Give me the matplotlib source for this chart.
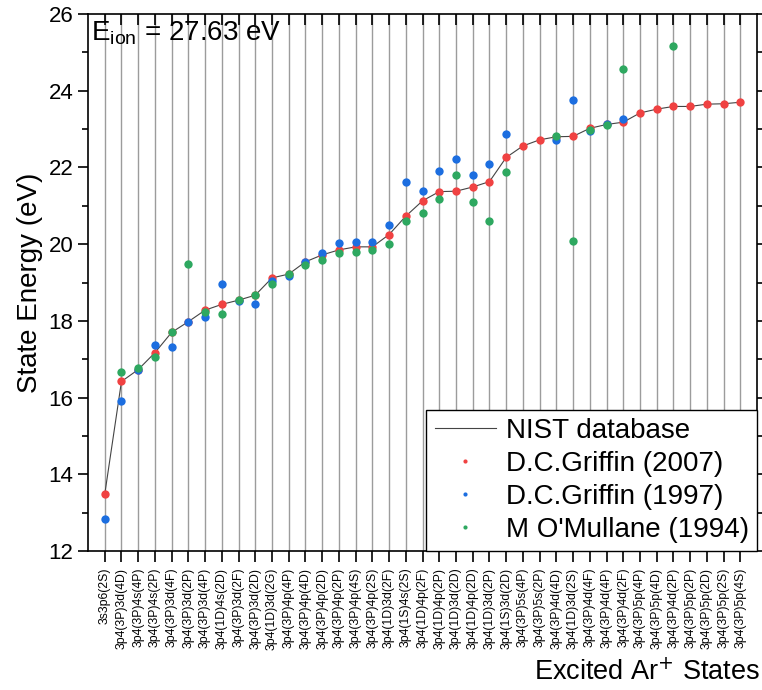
import numpy as np
import matplotlib.pyplot as plt
from matplotlib.ticker import MultipleLocator

plt.rcParams['font.family'] = ['Liberation Sans', 'DejaVu Sans']

states = ["3s3p6(2S)", "3p4(3P)3d(4D)", "3p4(3P)4s(4P)", "3p4(3P)4s(2P)", "3p4(3P)3d(4F)",
          "3p4(3P)3d(2P)", "3p4(3P)3d(4P)", "3p4(1D)4s(2D)", "3p4(3P)3d(2F)", "3p4(3P)3d(2D)",
          "3p4(1D)3d(2G)", "3p4(3P)4p(4P)", "3p4(3P)4p(4D)", "3p4(3P)4p(2D)", "3p4(3P)4p(2P)",
          "3p4(3P)4p(4S)", "3p4(3P)4p(2S)", "3p4(1D)3d(2F)", "3p4(1S)4s(2S)", "3p4(1D)4p(2F)",
          "3p4(1D)4p(2P)", "3p4(1D)3d(2D)", "3p4(1D)4p(2D)", "3p4(1D)3d(2P)", "3p4(1S)3d(2D)",
          "3p4(3P)5s(4P)", "3p4(3P)5s(2P)", "3p4(3P)4d(4D)", "3p4(1D)3d(2S)", "3p4(3P)4d(4F)",
          "3p4(3P)4d(4P)", "3p4(3P)4d(2F)", "3p4(3P)5p(4P)", "3p4(3P)5p(4D)", "3p4(3P)4d(2P)",
          "3p4(3P)5p(2P)", "3p4(3P)5p(2D)", "3p4(3P)5p(2S)", "3p4(3P)5p(4S)"]

nan = np.nan
nist = [13.48, 16.42, 16.73, 17.17, 17.70, 17.98, 18.28, 18.43, 18.54, 18.67,
        19.12, 19.22, 19.54, 19.72, 19.85, 19.93, 19.93, 20.25, 20.73, 21.13,
        21.37, 21.38, 21.49, 21.63, 22.26, 22.56, 22.72, 22.80, 22.81, 23.02,
        23.12, 23.18, 23.42, 23.52, 23.59, 23.59, 23.65, 23.66, 23.70]
griffin2007 = list(nist)
griffin1997 = [12.83, 15.91, 16.72, 17.37, 17.32, 17.98, 18.09, 18.96, 18.53, 18.45,
               19.05, 19.16, 19.54, 19.78, 20.04, 20.06, 20.05, 20.51, 21.63, 21.38,
               21.90, 22.23, 21.81, 22.09, 22.86, nan, nan, 22.72, 23.75, 22.95,
               23.13, 23.25, nan, nan, nan, nan, nan, nan, nan]
omullane1994 = [nan, 16.67, 16.76, 17.07, 17.71, 19.47, 18.24, 18.18, 18.55, 18.67,
                18.95, 19.21, 19.45, 19.60, 19.78, 19.80, 19.85, 20.00, 20.60, 20.82,
                21.19, 21.80, 21.11, 20.60, 21.89, nan, nan, 22.82, 20.09, 22.98,
                23.11, 24.57, nan, nan, 25.17, nan, nan, nan, nan]

x = np.arange(len(states))

fig = plt.figure(figsize=(7.62, 6.90), dpi=100)
ax = fig.add_axes([0.1155, 0.2014, 0.878, 0.7783])

for xi in x:
    ax.axvline(xi, color='#9c9c9c', lw=1.0, zorder=0)

ax.plot(x, nist, color='#444444', lw=0.8, label='NIST database', zorder=2)
ax.plot(x, griffin2007, 'o', color='#f04242', ms=6, mec='none', label='D.C.Griffin (2007)', zorder=3)
ax.plot(x, griffin1997, 'o', color='#1c6ee0', ms=6, mec='none', label='D.C.Griffin (1997)', zorder=4)
ax.plot(x, omullane1994, 'o', color='#2ea860', ms=6, mec='none', label="M O'Mullane (1994)", zorder=5)

ax.set_xlim(-1, 39)
ax.set_ylim(12, 26)
ax.set_xticks(x)
ax.set_xticklabels(states, rotation=90, fontsize=8.8)
ax.yaxis.set_major_locator(MultipleLocator(2))
ax.yaxis.set_minor_locator(MultipleLocator(1))
ax.tick_params(axis='y', which='major', labelsize=16, direction='out', length=7, width=1.2)
ax.tick_params(axis='y', which='minor', direction='out', length=4, width=1.2)
ax.tick_params(axis='x', direction='out', length=8, width=1.2, pad=4)
ax.tick_params(top=True, right=True, which='both')
for t in ax.xaxis.get_major_ticks():
    t.tick2line.set_marker(3)  # top ticks point inside
    t.tick2line.set_markersize(8)
for t in ax.yaxis.get_major_ticks() + ax.yaxis.get_minor_ticks():
    t.tick2line.set_marker(1)
for sp in ax.spines.values():
    sp.set_linewidth(1.2)

ax.set_ylabel('State Energy (eV)', fontsize=20, labelpad=4)
fig.text(0.997, 0.006, 'Excited Ar$^{+}$ States', fontsize=19.5, ha='right', va='bottom')
ax.text(0.004, 0.99, r'E$_{\mathregular{ion}}$ = 27.63 eV', transform=ax.transAxes,
        fontsize=20, ha='left', va='top')

leg = ax.legend(loc='lower right', borderaxespad=0, fontsize=20, markerscale=0.5,
                handlelength=2.2, fancybox=False, framealpha=1, edgecolor='black',
                borderpad=0.3, labelspacing=0.25, handletextpad=0.35)
leg.get_frame().set_linewidth(1.0)

fig.savefig('out.png', dpi=100)
